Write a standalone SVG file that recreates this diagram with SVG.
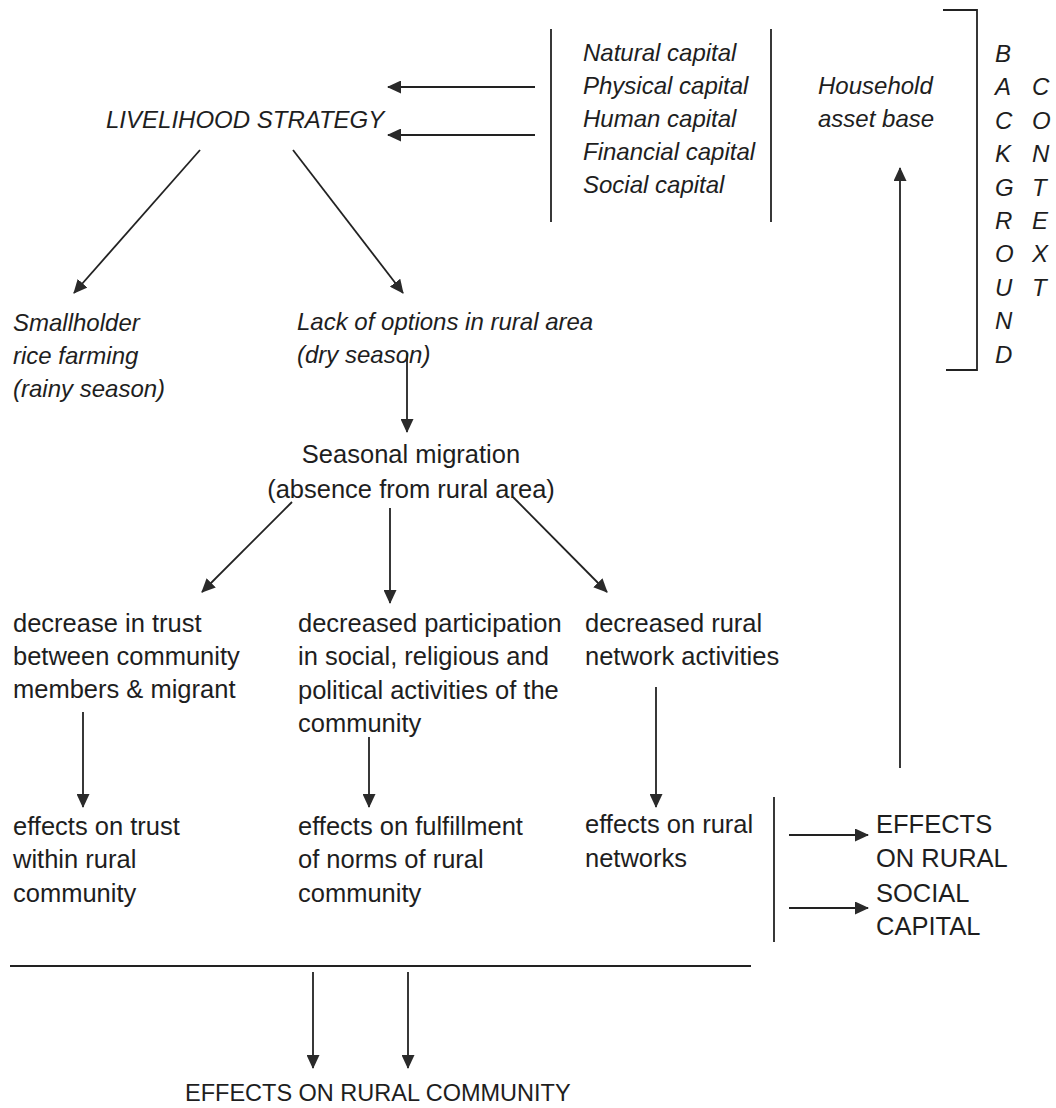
<svg xmlns="http://www.w3.org/2000/svg" width="1056" height="1108" viewBox="0 0 1056 1108">
<style>
  text { font-family: "Liberation Sans", Arial, sans-serif; fill: #1e1e1e; }
  .it { font-style: italic; font-size: 24px; }
  .rg { font-size: 25.5px; }
  .ln { stroke: #222; stroke-width: 1.8; fill: none; }
  .ar { stroke: #222; stroke-width: 1.8; fill: none; marker-end: url(#ah); }
</style>
<defs>
  <marker id="ah" viewBox="0 0 14 13" refX="13" refY="6.5" markerWidth="14" markerHeight="13" markerUnits="userSpaceOnUse" orient="auto">
    <path d="M0,0 L14,6.5 L0,13 Z" fill="#2a2a2a"/>
  </marker>
</defs>
<rect width="1056" height="1108" fill="#ffffff"/>

<g id="connectors">
  <line class="ar" x1="535" y1="87" x2="388" y2="87"/>
  <line class="ar" x1="535" y1="135" x2="388" y2="135"/>
  <line class="ar" x1="200" y1="150" x2="74" y2="293"/>
  <line class="ar" x1="293" y1="150" x2="403" y2="293"/>
  <line class="ar" x1="407" y1="353" x2="407" y2="432"/>
  <line class="ar" x1="292" y1="502" x2="202" y2="592"/>
  <line class="ar" x1="390" y1="508" x2="390" y2="603"/>
  <line class="ar" x1="513" y1="497" x2="607" y2="592"/>
  <line class="ar" x1="83" y1="712" x2="83" y2="807"/>
  <line class="ar" x1="369" y1="737" x2="369" y2="807"/>
  <line class="ar" x1="656" y1="687" x2="656" y2="807"/>
  <line class="ar" x1="789" y1="835" x2="868" y2="835"/>
  <line class="ar" x1="789" y1="908" x2="868" y2="908"/>
  <line class="ar" x1="313" y1="972" x2="313" y2="1068"/>
  <line class="ar" x1="408" y1="972" x2="408" y2="1068"/>
  <line class="ar" x1="900" y1="768" x2="900" y2="168"/>
  <line class="ln" x1="551" y1="29" x2="551" y2="222"/>
  <line class="ln" x1="771" y1="29" x2="771" y2="222"/>
  <polyline class="ln" points="943,10 977,10 977,370 946,370"/>
  <line class="ln" x1="774" y1="797" x2="774" y2="942"/>
  <line class="ln" x1="10" y1="966" x2="751" y2="966"/>
</g>

<g id="livelihood-strategy">
  <text class="it" x="106" y="128">LIVELIHOOD STRATEGY</text>
</g>

<g id="capitals">
  <text class="it" x="583" y="61">Natural capital</text>
  <text class="it" x="583" y="94">Physical capital</text>
  <text class="it" x="583" y="127">Human capital</text>
  <text class="it" x="583" y="160">Financial capital</text>
  <text class="it" x="583" y="193">Social capital</text>
</g>

<g id="household-asset-base">
  <text class="it" x="818" y="94">Household</text>
  <text class="it" x="818" y="127">asset base</text>
</g>

<g id="background">
  <text class="it" x="995" y="62">B</text>
  <text class="it" x="995" y="95.4">A</text>
  <text class="it" x="995" y="128.8">C</text>
  <text class="it" x="995" y="162.2">K</text>
  <text class="it" x="995" y="195.6">G</text>
  <text class="it" x="995" y="229">R</text>
  <text class="it" x="995" y="262.4">O</text>
  <text class="it" x="995" y="295.8">U</text>
  <text class="it" x="995" y="329.2">N</text>
  <text class="it" x="995" y="362.6">D</text>
</g>

<g id="context">
  <text class="it" x="1032" y="95.4">C</text>
  <text class="it" x="1032" y="128.8">O</text>
  <text class="it" x="1032" y="162.2">N</text>
  <text class="it" x="1032" y="195.6">T</text>
  <text class="it" x="1032" y="229">E</text>
  <text class="it" x="1032" y="262.4">X</text>
  <text class="it" x="1032" y="295.8">T</text>
</g>

<g id="smallholder">
  <text class="it" x="13" y="331">Smallholder</text>
  <text class="it" x="13" y="364">rice farming</text>
  <text class="it" x="13" y="397">(rainy season)</text>
</g>

<g id="lack-of-options">
  <text class="it" x="297" y="330">Lack of options in rural area</text>
  <text class="it" x="297" y="363">(dry season)</text>
</g>

<g id="seasonal-migration">
  <text class="rg" x="411" y="463" text-anchor="middle">Seasonal migration</text>
  <text class="rg" x="411" y="498" text-anchor="middle">(absence from rural area)</text>
</g>

<g id="decrease-trust">
  <text class="rg" x="13" y="632">decrease in trust</text>
  <text class="rg" x="13" y="665">between community</text>
  <text class="rg" x="13" y="698">members &amp; migrant</text>
</g>

<g id="decreased-participation">
  <text class="rg" x="298" y="632">decreased participation</text>
  <text class="rg" x="298" y="665">in social, religious and</text>
  <text class="rg" x="298" y="699">political activities of the</text>
  <text class="rg" x="298" y="732">community</text>
</g>

<g id="decreased-network">
  <text class="rg" x="585" y="632">decreased rural</text>
  <text class="rg" x="585" y="665">network activities</text>
</g>

<g id="effects-trust">
  <text class="rg" x="13" y="835">effects on trust</text>
  <text class="rg" x="13" y="868">within rural</text>
  <text class="rg" x="13" y="902">community</text>
</g>

<g id="effects-norms">
  <text class="rg" x="298" y="835">effects on fulfillment</text>
  <text class="rg" x="298" y="868">of norms of rural</text>
  <text class="rg" x="298" y="902">community</text>
</g>

<g id="effects-networks">
  <text class="rg" x="585" y="833">effects on rural</text>
  <text class="rg" x="585" y="867">networks</text>
</g>

<g id="effects-social-capital">
  <text class="rg" x="876" y="833">EFFECTS</text>
  <text class="rg" x="876" y="867">ON RURAL</text>
  <text class="rg" x="876" y="902">SOCIAL</text>
  <text class="rg" x="876" y="935">CAPITAL</text>
</g>

<g id="effects-community">
  <text class="rg" x="185" y="1101" style="font-size:23.5px">EFFECTS ON RURAL COMMUNITY</text>
</g>
</svg>
